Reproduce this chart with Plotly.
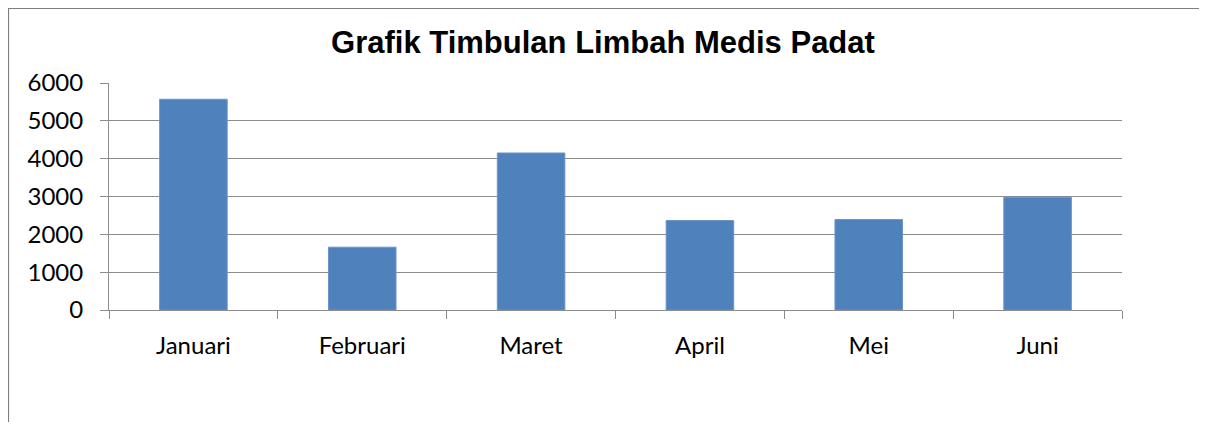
import plotly.graph_objects as go

categories = ["Januari", "Februari", "Maret", "April", "Mei", "Juni"]
values = [5570, 1660, 4150, 2365, 2390, 2980]
y_ticks = [0, 1000, 2000, 3000, 4000, 5000, 6000]
title_text = "Grafik Timbulan Limbah Medis Padat"

# page body has an 8px margin; figure coords = reference coords - 8
OFF = 8
W, H = 1207 - 2 * OFF, 430 - 2 * OFF
ml, mr, mt, mb = 101, 77, 75, 112
pw = W - ml - mr
ph = H - mt - mb

def px_to_paper_x(px):
    return (px - OFF - ml) / pw

def py_to_paper_y(py):
    return (H - mb - (py - OFF)) / ph

fig = go.Figure(go.Bar(
    x=categories, y=values,
    marker=dict(color="#4F81BD", line=dict(color="#6A93C8", width=1)),
    width=0.4,
))

axis_col = "#8C8C8C"
tick_font = dict(family="Lato, Open Sans", size=24, color="black")
fig.update_layout(
    width=W, height=H,
    margin=dict(l=ml, r=mr, t=mt, b=mb),
    paper_bgcolor="white", plot_bgcolor="white",
    showlegend=False,
    title=dict(text="<b>" + title_text + "</b>", x=px_to_paper_x(603), xref="paper",
               xanchor="center", y=1 - (42 - OFF) / H, yanchor="middle",
               font=dict(family="Liberation Sans, Arial", size=31, color="black")),
    font=tick_font,
    xaxis=dict(
        type="category", showgrid=False, showline=True, linecolor=axis_col, linewidth=1,
        ticks="outside", tickson="boundaries", ticklen=8, tickcolor=axis_col,
        tickfont=tick_font, ticklabelstandoff=14,
        range=[-0.5, 5.5],
    ),
    yaxis=dict(
        range=[0, 6000], tickvals=y_ticks, showgrid=True, gridcolor=axis_col, gridwidth=1,
        showline=True, linecolor=axis_col, linewidth=1, zeroline=False,
        ticks="outside", ticklen=8, tickcolor=axis_col,
        tickfont=tick_font, ticklabelstandoff=12,
    ),
    shapes=[dict(type="rect", xref="paper", yref="paper",
                 x0=px_to_paper_x(8.5), x1=px_to_paper_x(1230),
                 y0=py_to_paper_y(460), y1=py_to_paper_y(8.5),
                 line=dict(color="#7F7F7F", width=1.2), fillcolor="rgba(0,0,0,0)",
                 layer="below")],
)

fig.write_html("out.html")
